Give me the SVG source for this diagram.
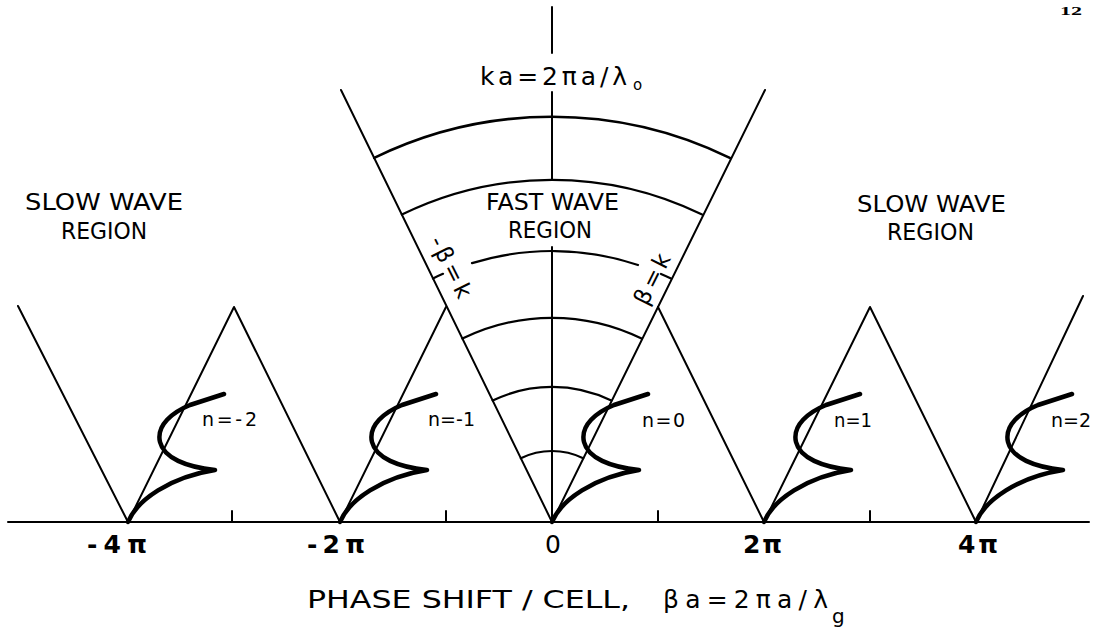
<svg xmlns="http://www.w3.org/2000/svg" width="1099" height="631" viewBox="0 0 1099 631">
<style>
.ln{fill:none;stroke:#000;stroke-width:2;stroke-linecap:round;stroke-linejoin:round}
.arc{fill:none;stroke:#000;stroke-width:2.2;stroke-linecap:round}
.cv{fill:none;stroke:#000;stroke-width:4.5;stroke-linecap:round;stroke-linejoin:round}
text{font-family:"DejaVu Sans","Liberation Sans",sans-serif;fill:#000}
.lbl{font-size:23px}
.ax{font-size:25px;font-weight:bold}
.n{font-size:19px}
.big{font-size:25px}
</style>
<defs>
<path id="disp" class="cv" d="M0 0 C9 -22 42 -45 87 -52 C58 -55 36 -64 32 -80 C28 -97 45 -110 62 -117 L96 -128"/>
</defs>
<rect width="1099" height="631" fill="#fff"/>
<text x="1060" y="15" style="font-family:'Liberation Serif',serif;font-weight:bold;font-size:12px" textLength="22" lengthAdjust="spacingAndGlyphs">12</text>
<g id="axes">
<path class="ln" d="M8 522 H1089"/>
<path class="ln" d="M552 7 V53 M552 92 V180 M552 247 V522"/>
<path class="ln" d="M232 522 V511 M446 522 V511 M658 522 V511 M870 522 V511"/>
</g>
<g id="connectors">
<path class="ln" d="M18 306 L128 522 L234 307 L340 522 L446 307"/>
<path class="ln" d="M341 90 L552 522 L765 90"/>
<path class="ln" d="M658 307 L764 522 L870 307 L976 522 L1083 296"/>
</g>
<g id="arcs">
<path class="arc" d="M520.8 458.2 A71 71 0 0 1 583.2 458.2"/>
<path class="arc" d="M492.7 400.6 A135 135 0 0 1 611.3 400.6"/>
<path class="arc" d="M462.4 338.6 A204 204 0 0 1 641.6 338.6"/>
<path class="arc" d="M472 263.1 A271 271 0 0 1 638 265"/>
<path class="arc" d="M433 278.4 A271 271 0 0 1 443 273.8 M661 273.9 A271 271 0 0 1 671 278.4"/>
<path class="arc" d="M401.9 214.5 A342 342 0 0 1 702.1 214.5"/>
<path class="arc" style="stroke-width:2.6" d="M374.2 157.9 A405 405 0 0 1 729.8 157.9"/>
</g>
<g id="curves">
<use href="#disp" x="128" y="522"/>
<use href="#disp" x="340" y="522"/>
<use href="#disp" x="552" y="522"/>
<use href="#disp" x="764" y="522"/>
<use href="#disp" x="976" y="522"/>
</g>
<g id="ka-label">
<text class="big" x="480" y="85" textLength="147" lengthAdjust="spacing">ka=2πa/λ</text>
<text x="633" y="90" style="font-size:15px">o</text>
</g>
<g id="fast-region">
<text class="lbl" x="486" y="210" textLength="133" lengthAdjust="spacingAndGlyphs">FAST WAVE</text>
<text class="lbl" x="508" y="238" textLength="84" lengthAdjust="spacingAndGlyphs">REGION</text>
</g>
<g id="slow-left">
<text class="lbl" x="25" y="210" textLength="158" lengthAdjust="spacingAndGlyphs">SLOW WAVE</text>
<text class="lbl" x="61" y="239" textLength="86" lengthAdjust="spacingAndGlyphs">REGION</text>
</g>
<g id="slow-right">
<text class="lbl" x="857" y="212" textLength="149" lengthAdjust="spacingAndGlyphs">SLOW WAVE</text>
<text class="lbl" x="887" y="240" textLength="87" lengthAdjust="spacingAndGlyphs">REGION</text>
</g>
<g id="beta-labels">
<text transform="translate(451,267) rotate(63.4)" x="-33" y="8" style="font-size:23px" textLength="66" lengthAdjust="spacing">-β=k</text>
<text transform="translate(652,279) rotate(-63.4)" x="-27" y="8" style="font-size:23px" textLength="54" lengthAdjust="spacing">β=k</text>
</g>
<g id="n-labels">
<text class="n" x="202" y="426" textLength="55" lengthAdjust="spacing">n=-2</text>
<text class="n" x="428" y="426" textLength="47" lengthAdjust="spacing">n=-1</text>
<text class="n" x="642" y="427" textLength="43" lengthAdjust="spacing">n=0</text>
<text class="n" x="834" y="427" textLength="38" lengthAdjust="spacingAndGlyphs">n=1</text>
<text class="n" x="1051" y="427" textLength="40" lengthAdjust="spacing">n=2</text>
</g>
<g id="tick-labels">
<text class="ax" x="87" y="553" textLength="60" lengthAdjust="spacing">-4π</text>
<text class="ax" x="307" y="553" textLength="58" lengthAdjust="spacing">-2π</text>
<text class="ax" x="545" y="553" style="font-weight:normal">0</text>
<text class="ax" x="743" y="553" textLength="39" lengthAdjust="spacing">2π</text>
<text class="ax" x="958" y="553" textLength="40" lengthAdjust="spacing">4π</text>
</g>
<g id="x-title">
<text class="big" x="307" y="608" textLength="323" lengthAdjust="spacingAndGlyphs">PHASE SHIFT / CELL,</text>
<text class="big" x="663" y="608" textLength="165" lengthAdjust="spacing">βa=2πa/λ</text>
<text x="832" y="623" style="font-size:20px">g</text>
</g>
</svg>
